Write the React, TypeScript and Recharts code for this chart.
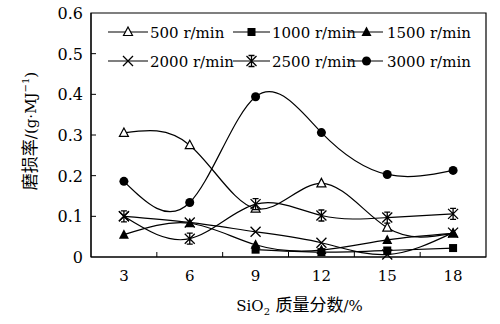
import React from "react";
import { LineChart, Line, XAxis, YAxis, ReferenceArea } from "recharts";

document.body.style.margin = "0";

const silica = [3, 6, 9, 12, 15, 18];
const wear500 = [0.305, 0.275, 0.119, 0.181, 0.072, 0.058];
const wear1000 = [null, null, 0.018, 0.012, 0.016, 0.022];
const wear1500 = [0.055, 0.083, 0.03, 0.017, 0.042, 0.058];
const wear2000 = [0.1, 0.085, 0.062, 0.035, 0.006, 0.06];
const wear2500 = [0.1, 0.045, 0.13, 0.102, 0.097, 0.106];
const wear3000 = [0.186, 0.134, 0.394, 0.306, 0.203, 0.213];

const xTicks = [3, 4.5, 6, 7.5, 9, 10.5, 12, 13.5, 15, 16.5, 18];
const yTicks = [0, 0.1, 0.2, 0.3, 0.4, 0.5, 0.6];

const series = [
  { key: "r500", name: "500 r/min", values: wear500, shape: "openTri" },
  { key: "r1000", name: "1000 r/min", values: wear1000, shape: "square" },
  { key: "r1500", name: "1500 r/min", values: wear1500, shape: "tri" },
  { key: "r2000", name: "2000 r/min", values: wear2000, shape: "cross" },
  { key: "r2500", name: "2500 r/min", values: wear2500, shape: "star" },
  { key: "r3000", name: "3000 r/min", values: wear3000, shape: "circle" },
];

const data = silica.map((x, i) => {
  const row: any = { x };
  series.forEach((s) => (row[s.key] = s.values[i]));
  return row;
});

const SERIF = "'DejaVu Serif', 'Noto Sans CJK SC', serif";

function marker(shape: string, cx: number, cy: number) {
  switch (shape) {
    case "openTri":
      return (
        <polygon
          points={`${cx},${cy - 5} ${cx - 4.5},${cy + 3.5} ${cx + 4.5},${cy + 3.5}`}
          fill="#fff"
          stroke="#000"
          strokeWidth={1.2}
        />
      );
    case "tri":
      return (
        <polygon
          points={`${cx},${cy - 5.5} ${cx - 5},${cy + 4} ${cx + 5},${cy + 4}`}
          fill="#000"
        />
      );
    case "square":
      return <rect x={cx - 4} y={cy - 4} width={8} height={8} fill="#000" />;
    case "circle":
      return <circle cx={cx} cy={cy} r={4.5} fill="#000" />;
    case "cross":
      return (
        <path
          d={`M${cx - 5},${cy - 5}L${cx + 5},${cy + 5}M${cx - 5},${cy + 5}L${cx + 5},${cy - 5}`}
          stroke="#000"
          strokeWidth={1.3}
        />
      );
    default:
      return (
        <path
          d={`M${cx - 5},${cy - 5}L${cx + 5},${cy + 5}M${cx - 5},${cy + 5}L${cx + 5},${cy - 5}M${cx},${cy - 6}L${cx},${cy + 6}M${cx - 3},${cy - 5.5}L${cx + 3},${cy - 5.5}M${cx - 3},${cy + 5.5}L${cx + 3},${cy + 5.5}`}
          stroke="#000"
          strokeWidth={1.3}
        />
      );
  }
}

const YTick = (props: any) => {
  const { x, y, payload } = props;
  const v = payload.value;
  const axisX = x + 8;
  return (
    <g>
      {v > 0 && v < 0.6 && (
        <line x1={axisX} x2={axisX + 5} y1={y} y2={y} stroke="#000" />
      )}
      <text x={x} y={y} dy={6} textAnchor="end" fontSize={16} style={{ fontFamily: SERIF }} fill="#000">
        {v === 0 ? "0" : v.toFixed(1)}
      </text>
    </g>
  );
};

const XTick = (props: any) => {
  const { x, y, payload } = props;
  const v = payload.value;
  const axisY = y - 13;
  if (v % 3 !== 0) {
    return <line x1={x} x2={x} y1={axisY} y2={axisY - 5} stroke="#000" />;
  }
  return (
    <text x={x} y={y} dy={11} textAnchor="middle" fontSize={15} style={{ fontFamily: SERIF }} fill="#000">
      {v}
    </text>
  );
};

const XLabel = (props: any) => {
  const vb = props.viewBox;
  const cx = vb.x + vb.width / 2 + 11;
  return (
    <text x={cx} y={311} textAnchor="middle" fontSize={15} style={{ fontFamily: SERIF }} fill="#000">
      SiO<tspan dy={4} fontSize={10}>2</tspan>
      <tspan dy={-4} fontSize={17}> 质量分数</tspan>
      <tspan>/%</tspan>
    </text>
  );
};

const YLabel = () => {
  const cx = 36;
  const cy = 131;
  return (
    <text
      x={cx}
      y={cy}
      textAnchor="middle"
      transform={`rotate(-90 ${cx} ${cy})`}
      fontSize={17}
      style={{ fontFamily: SERIF }}
      fill="#000"
    >
      磨损率
      <tspan fontSize={15}>/(g·MJ</tspan>
      <tspan dy={-7} fontSize={10}>−1</tspan>
      <tspan dy={7} fontSize={15}>)</tspan>
    </text>
  );
};

const legendPos = [
  { x: 108, y: 32, line: 40, text: 150 },
  { x: 233, y: 32, line: 37, text: 272 },
  { x: 350, y: 32, line: 33, text: 387 },
  { x: 108, y: 61, line: 40, text: 150 },
  { x: 233, y: 61, line: 37, text: 272 },
  { x: 350, y: 61, line: 33, text: 387 },
];

const LegendBox = () => (
  <svg
    width={500}
    height={100}
    style={{ position: "absolute", left: 0, top: 0, pointerEvents: "none" }}
  >
    {series.map((s, i) => {
      const p = legendPos[i];
      return (
        <g key={s.key}>
          <line x1={p.x} x2={p.x + p.line} y1={p.y} y2={p.y} stroke="#000" strokeWidth={1.2} />
          {marker(s.shape, p.x + p.line / 2, p.y)}
          <text x={p.text} y={p.y + 5.5} fontSize={15} style={{ fontFamily: SERIF }} fill="#000">
            {s.name}
          </text>
        </g>
      );
    })}
  </svg>
);

export default function App() {
  return (
    <div style={{ position: "relative", width: 500, height: 324 }}>
      <LineChart
        width={500}
        height={324}
        data={data}
        margin={{ top: 13, right: 14, bottom: 0, left: 0 }}
      >
        <XAxis
          dataKey="x"
          type="number"
          domain={[1.5, 19.5]}
          ticks={xTicks}
          interval={0}
          height={67}
          tickLine={false}
          tickSize={0}
          tickMargin={13}
          axisLine={{ stroke: "#000" }}
          tick={<XTick />}
          label={{ content: <XLabel /> }}
        />
        <YAxis
          type="number"
          domain={[0, 0.6]}
          ticks={yTicks}
          interval={0}
          width={91}
          tickLine={false}
          tickSize={0}
          tickMargin={8}
          axisLine={{ stroke: "#000" }}
          tick={<YTick />}
          label={{ content: <YLabel /> }}
        />
        <ReferenceArea
          x1={1.5}
          x2={19.5}
          y1={0}
          y2={0.6}
          fill="none"
          fillOpacity={0}
          stroke="#000"
          strokeWidth={1.2}
        />
        {series.map((s) => (
          <Line
            key={s.key}
            dataKey={s.key}
            name={s.name}
            type="natural"
            stroke="#000"
            strokeWidth={1.2}
            isAnimationActive={false}
            connectNulls={false}
            activeDot={false}
            dot={(p: any) =>
              p.value == null || p.cx == null ? (
                <g key={p.index} />
              ) : (
                <g key={p.index}>{marker(s.shape, p.cx, p.cy)}</g>
              )
            }
          />
        ))}
      </LineChart>
      <LegendBox />
    </div>
  );
}
